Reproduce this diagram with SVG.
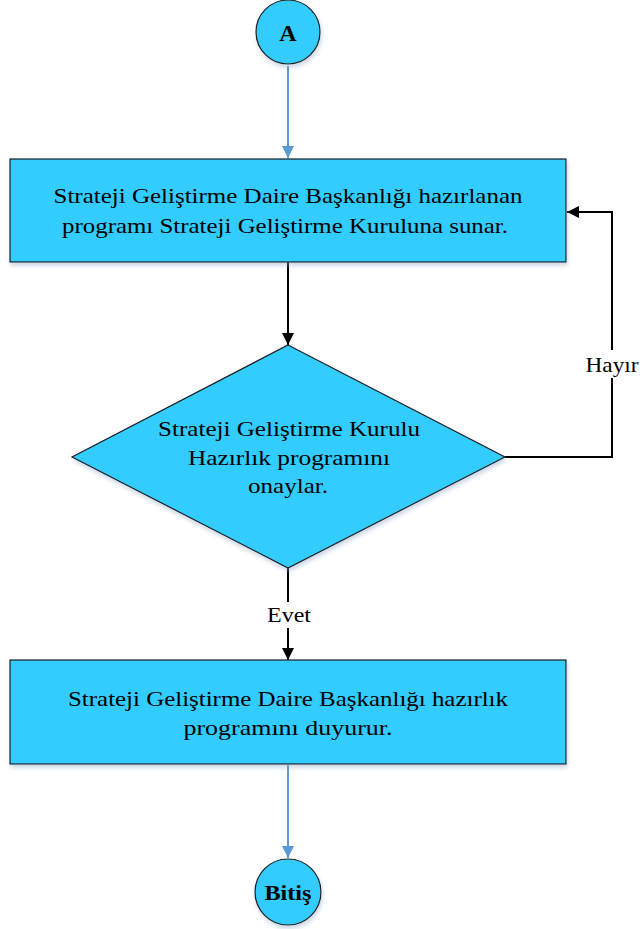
<svg xmlns="http://www.w3.org/2000/svg" width="643" height="929" viewBox="0 0 643 929">
  <style>
    .shape { fill: #33CCFF; stroke: #1a1a1a; stroke-width: 1.2; filter: url(#sh); }
    .txt { font-family: "Liberation Serif", "Times New Roman", serif; font-size: 22px; fill: #000; text-anchor: middle; }
    .bold { font-weight: bold; }
    .lbl { font-family: "Liberation Serif", "Times New Roman", serif; font-size: 21px; fill: #000; text-anchor: middle; }
    .blk { fill: none; stroke: #000; stroke-width: 2; }
    .blu { fill: none; stroke: #5B9BD5; stroke-width: 2; }
  </style>
  <defs>
    <filter id="sh" x="-10%" y="-10%" width="120%" height="130%">
      <feDropShadow dx="1" dy="3" stdDeviation="2" flood-color="#8aa4c8" flood-opacity="0.45"/>
    </filter>
    <marker id="ab" viewBox="0 0 12 12" refX="12" refY="6" markerWidth="12" markerHeight="12" markerUnits="userSpaceOnUse" orient="auto">
      <path d="M0,0 L12,6 L0,12 Z" fill="#000"/>
    </marker>
    <marker id="au" viewBox="0 0 12 12" refX="12" refY="6" markerWidth="12" markerHeight="12" markerUnits="userSpaceOnUse" orient="auto">
      <path d="M0,0 L12,6 L0,12 Z" fill="#5B9BD5"/>
    </marker>
  </defs>
  <rect width="643" height="929" fill="#fff"/>

  <g id="connectors">
    <path class="blu" d="M288,66 L288,158" marker-end="url(#au)"/>
    <path class="blk" d="M288,262 L288,345" marker-end="url(#ab)"/>
    <path class="blk" d="M505,457 L612,457 L612,212 L567,212" marker-end="url(#ab)"/>
    <path class="blk" d="M288,568 L288,660" marker-end="url(#ab)"/>
    <path class="blu" d="M288,765 L288,858" marker-end="url(#au)"/>
    <rect x="584" y="350" width="57" height="28" fill="#fff"/>
    <text class="lbl" x="612" y="372" textLength="53" lengthAdjust="spacingAndGlyphs">Hayır</text>
    <rect x="264" y="602" width="50" height="26" fill="#fff"/>
    <text class="lbl" x="289" y="622" textLength="44" lengthAdjust="spacingAndGlyphs">Evet</text>
  </g>

  <g id="start">
    <circle class="shape" cx="288" cy="32" r="32"/>
    <text class="txt bold" x="288" y="41" style="font-size:24px">A</text>
  </g>

  <g id="step1">
    <rect class="shape" x="10" y="159" width="556" height="103"/>
    <text class="txt" x="288" y="203" textLength="469" lengthAdjust="spacingAndGlyphs">Strateji Geliştirme Daire Başkanlığı hazırlanan</text>
    <text class="txt" x="285" y="233" textLength="446" lengthAdjust="spacingAndGlyphs">programı Strateji Geliştirme Kuruluna sunar.</text>
  </g>

  <g id="decision">
    <polygon class="shape" points="288,345 505,457 288,568 72,457"/>
    <text class="txt" x="289" y="436" textLength="262" lengthAdjust="spacingAndGlyphs">Strateji Geliştirme Kurulu</text>
    <text class="txt" x="289" y="465" textLength="202" lengthAdjust="spacingAndGlyphs">Hazırlık programını</text>
    <text class="txt" x="288" y="493" textLength="80" lengthAdjust="spacingAndGlyphs">onaylar.</text>
  </g>

  <g id="step2">
    <rect class="shape" x="10" y="660" width="556" height="104"/>
    <text class="txt" x="288" y="706" textLength="440" lengthAdjust="spacingAndGlyphs">Strateji Geliştirme Daire Başkanlığı hazırlık</text>
    <text class="txt" x="288" y="735" textLength="209" lengthAdjust="spacingAndGlyphs">programını duyurur.</text>
  </g>

  <g id="end">
    <circle class="shape" cx="288" cy="892" r="33"/>
    <text class="txt bold" x="288" y="900" textLength="47" lengthAdjust="spacingAndGlyphs">Bitiş</text>
  </g>
</svg>
